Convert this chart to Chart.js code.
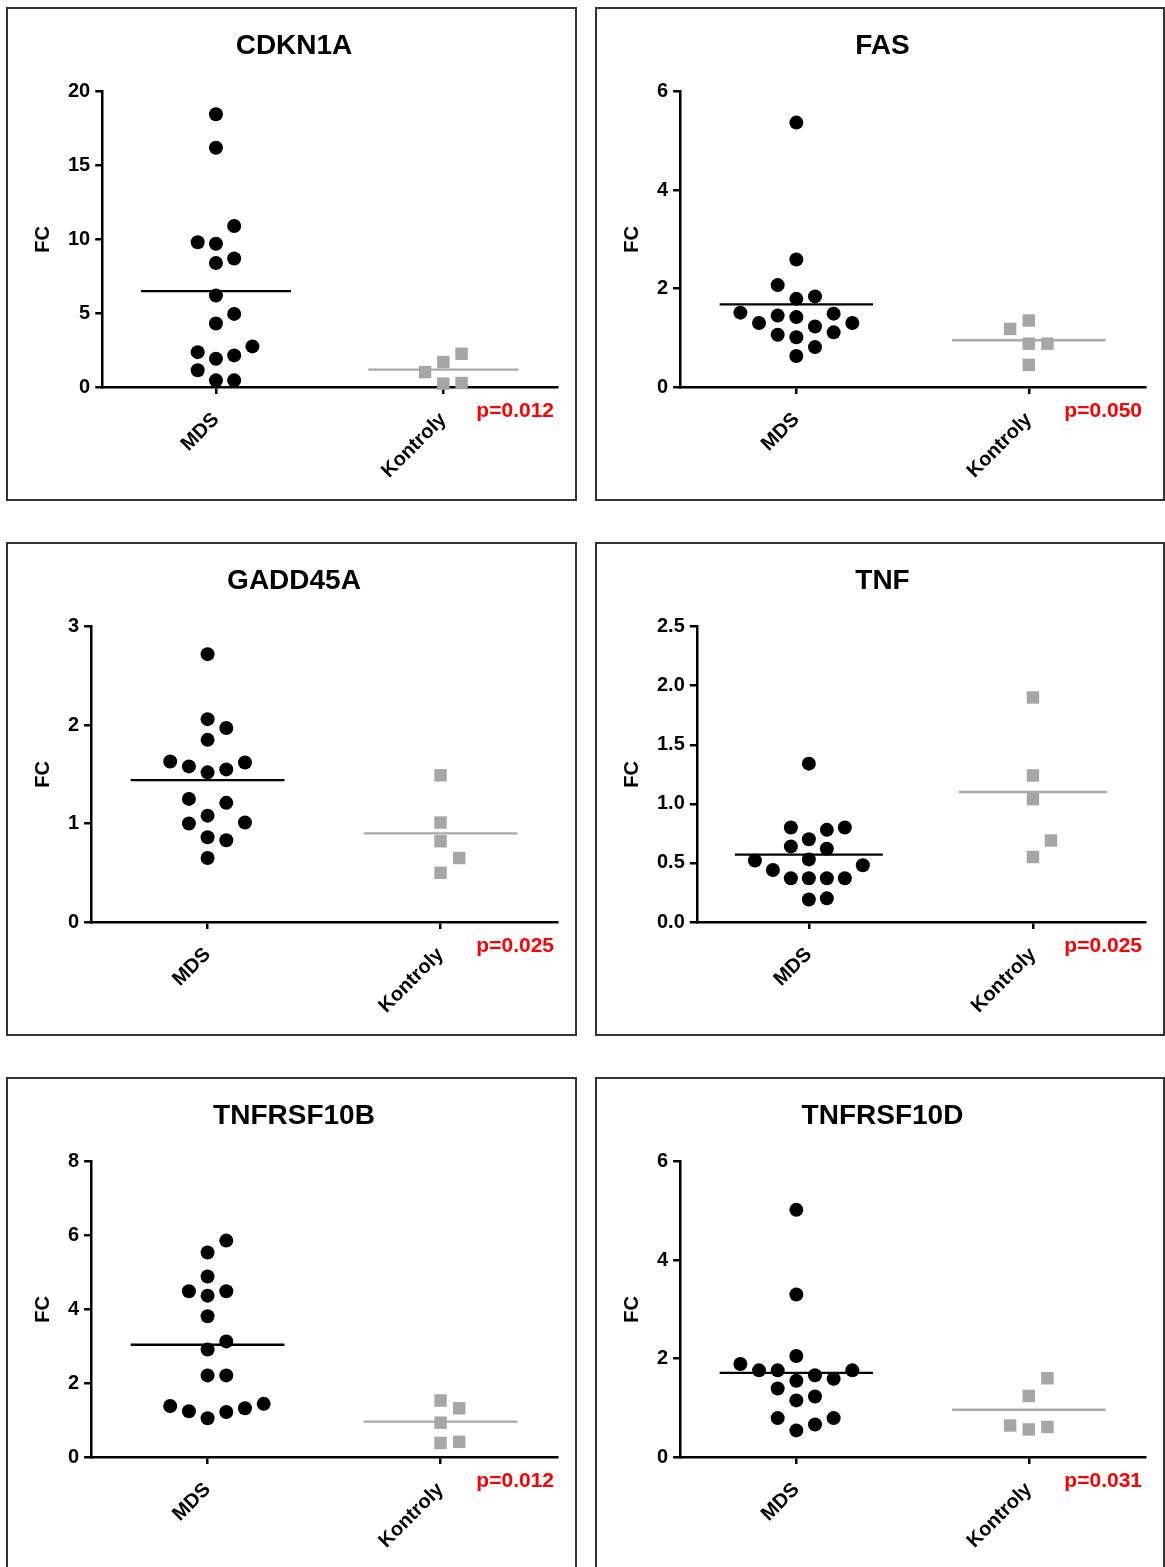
<!DOCTYPE html>
<html>
<head>
<meta charset="utf-8">
<script src="https://cdn.jsdelivr.net/npm/chart.js@4.4.1/dist/chart.umd.min.js"></script>
<style>
  body { margin: 0; background: #fff; width: 1165px; height: 1567px; overflow: hidden; position: relative; }
  .panel { position: absolute; border: 2px solid #333; background: #fff; }
  canvas { display: block; }
</style>
</head>
<body>
<script>
// gene panels, left to right, top to bottom
const genes = ['CDKN1A', 'FAS', 'GADD45A', 'TNF', 'TNFRSF10B', 'TNFRSF10D'];
const groups = ['MDS', 'Kontroly'];
const pValues = ['p=0.012', 'p=0.050', 'p=0.025', 'p=0.025', 'p=0.012', 'p=0.031'];

// y tick labels per panel
const yTicksCDKN1A = ['0', '5', '10', '15', '20'];
const yTicksFAS = ['0', '2', '4', '6'];
const yTicksGADD45A = ['0', '1', '2', '3'];
const yTicksTNF = ['0.0', '0.5', '1.0', '1.5', '2.0', '2.5'];
const yTicksTNFRSF10B = ['0', '2', '4', '6', '8'];
const yTicksTNFRSF10D = ['0', '2', '4', '6'];

// fold change values
const mdsCDKN1A = [18.47, 16.2, 10.9, 9.8, 9.7, 8.7, 8.4, 6.2, 4.95, 4.3, 2.75, 2.36, 2.14, 1.91, 1.13, 0.45, 0.45];
const ctrlCDKN1A = [2.25, 1.69, 1.01, 0.23, 0.27];
const mdsFAS = [5.37, 2.59, 2.07, 1.84, 1.79, 1.51, 1.49, 1.42, 1.45, 1.30, 1.30, 1.23, 1.06, 1.11, 1.01, 0.81, 0.63];
const ctrlFAS = [1.35, 1.18, 0.88, 0.88, 0.45];
const mdsGADD45A = [2.72, 2.06, 1.97, 1.85, 1.62, 1.63, 1.55, 1.52, 1.58, 1.25, 1.21, 1.08, 1.00, 1.01, 0.86, 0.83, 0.65];
const ctrlGADD45A = [1.49, 1.01, 0.82, 0.65, 0.50];
const mdsTNF = [1.34, 0.80, 0.78, 0.80, 0.70, 0.62, 0.64, 0.53, 0.48, 0.52, 0.44, 0.37, 0.37, 0.37, 0.37, 0.19, 0.20];
const ctrlTNF = [1.90, 1.24, 1.04, 0.69, 0.55];
const mdsTNFRSF10B = [5.86, 5.54, 4.89, 4.49, 4.49, 4.37, 3.81, 3.13, 2.91, 2.21, 2.21, 1.44, 1.38, 1.32, 1.24, 1.22, 1.05];
const ctrlTNFRSF10B = [1.53, 1.32, 0.93, 0.38, 0.41];
const mdsTNFRSF10D = [5.02, 3.30, 2.05, 1.89, 1.76, 1.76, 1.76, 1.66, 1.59, 1.55, 1.39, 1.23, 1.15, 0.79, 0.79, 0.66, 0.54];
const ctrlTNFRSF10D = [1.60, 1.24, 0.64, 0.56, 0.61];

// horizontal lines (group means)
const mdsMeans = [6.49, 1.68, 1.44, 0.57, 3.04, 1.71];
const ctrlMeans = [1.17, 0.95, 0.90, 1.10, 0.96, 0.96];

const yTickSets = [yTicksCDKN1A, yTicksFAS, yTicksGADD45A, yTicksTNF, yTicksTNFRSF10B, yTicksTNFRSF10D];
const mdsSets = [mdsCDKN1A, mdsFAS, mdsGADD45A, mdsTNF, mdsTNFRSF10B, mdsTNFRSF10D];
const ctrlSets = [ctrlCDKN1A, ctrlFAS, ctrlGADD45A, ctrlTNF, ctrlTNFRSF10B, ctrlTNFRSF10D];

Chart.defaults.font.family = '"Liberation Sans", Arial, sans-serif';
Chart.defaults.color = '#000';

const PLOT_H = 296;     // approx plot height in px, used for spreading points
const PX_PER_X = 228;   // approx px per x unit
const SLOT_PX = 18.3;
const HALF_LINE = 0.33;

// simple beeswarm: spread points sideways so they don't overlap
function swarm(values, center, yMax, minGap) {
  const pxY = PLOT_H / yMax;
  const order = values.map((v, i) => i).sort((a, b) => values[a] - values[b]);
  const placed = [];
  const pts = [];
  order.forEach(i => {
    const v = values[i];
    for (const k of [0, 1, -1, 2, -2, 3, -3, 4, -4, 5, -5]) {
      const ok = placed.every(p => Math.hypot((k - p.k) * SLOT_PX, (v - p.v) * pxY) >= minGap);
      if (ok) {
        placed.push({ k: k, v: v });
        pts.push({ x: center + k * SLOT_PX / PX_PER_X, y: v });
        break;
      }
    }
  });
  return pts;
}

const pLabel = {
  id: 'pLabel',
  afterDraw(chart, args, opts) {
    const { ctx, chartArea } = chart;
    ctx.save();
    ctx.font = 'bold 21px "Liberation Sans", Arial, sans-serif';
    ctx.fillStyle = '#ff0000';
    ctx.textAlign = 'right';
    ctx.textBaseline = 'alphabetic';
    ctx.fillText(opts.text, chartArea.right - 3, chartArea.bottom + 29.5);
    ctx.restore();
  }
};

const colLeft = [6, 595];
const colWidth = [567, 566];
const rowTop = [7, 542, 1077];

genes.forEach((gene, i) => {
  const col = i % 2, row = Math.floor(i / 2);
  const panel = document.createElement('div');
  panel.className = 'panel';
  panel.style.left = colLeft[col] + 'px';
  panel.style.top = rowTop[row] + 'px';
  const canvas = document.createElement('canvas');
  canvas.width = colWidth[col];
  canvas.height = 490;
  canvas.style.width = colWidth[col] + 'px';
  canvas.style.height = '490px';
  panel.appendChild(canvas);
  document.body.appendChild(panel);

  const tickLabels = yTickSets[i];
  const tickVals = tickLabels.map(parseFloat);
  const yMax = tickVals[tickVals.length - 1];

  new Chart(canvas, {
    type: 'scatter',
    data: {
      datasets: [
        {
          data: swarm(mdsSets[i], 1, yMax, 18),
          pointStyle: 'circle', pointRadius: 7, pointBorderWidth: 0,
          backgroundColor: '#000', borderColor: '#000', clip: false
        },
        {
          data: swarm(ctrlSets[i], 2, yMax, 18),
          pointStyle: 'rect', pointRadius: 8.8, pointBorderWidth: 0,
          backgroundColor: '#a6a6a6', borderColor: '#a6a6a6', clip: false
        },
        {
          data: [{ x: 1 - HALF_LINE, y: mdsMeans[i] }, { x: 1 + HALF_LINE, y: mdsMeans[i] }],
          showLine: true, pointRadius: 0, borderColor: '#000', borderWidth: 2.3, clip: false
        },
        {
          data: [{ x: 2 - HALF_LINE, y: ctrlMeans[i] }, { x: 2 + HALF_LINE, y: ctrlMeans[i] }],
          showLine: true, pointRadius: 0, borderColor: '#a9a9a9', borderWidth: 2.3, clip: false
        }
      ]
    },
    options: {
      responsive: false,
      animation: false,
      events: [],
      layout: { padding: { left: 23, right: 18, top: 0, bottom: 0 } },
      scales: {
        x: {
          type: 'linear', min: 0.5, max: 2.5,
          afterBuildTicks: s => { s.ticks = [{ value: 1 }, { value: 2 }]; },
          afterFit: s => { s.height = 112; },
          ticks: {
            callback: (v, idx) => groups[idx],
            minRotation: 45, maxRotation: 45, autoSkip: false, padding: 14,
            color: '#000', font: { size: 20, weight: 'bold' }
          },
          grid: { drawOnChartArea: false, tickLength: 7, lineWidth: 2.5, color: '#000' },
          border: { color: '#000', width: 2.5 }
        },
        y: {
          min: 0, max: yMax,
          afterBuildTicks: s => { s.ticks = tickVals.map(v => ({ value: v })); },
          ticks: {
            callback: (v, idx) => tickLabels[idx],
            padding: 5, color: '#000', font: { size: 20, weight: 'bold' }
          },
          grid: { drawOnChartArea: false, tickLength: 7, lineWidth: 2.5, color: '#000' },
          border: { color: '#000', width: 2.5 },
          title: {
            display: true, text: 'FC', color: '#000',
            font: { size: 20, weight: 'bold' },
            padding: { top: 0, bottom: 8 }
          }
        }
      },
      plugins: {
        legend: { display: false },
        tooltip: { enabled: false },
        title: {
          display: true, text: gene, color: '#000',
          font: { size: 28, weight: 'bold' },
          padding: { top: 20, bottom: 29 }
        },
        pLabel: { text: pValues[i] }
      }
    },
    plugins: [pLabel]
  });
});
</script>
</body>
</html>
